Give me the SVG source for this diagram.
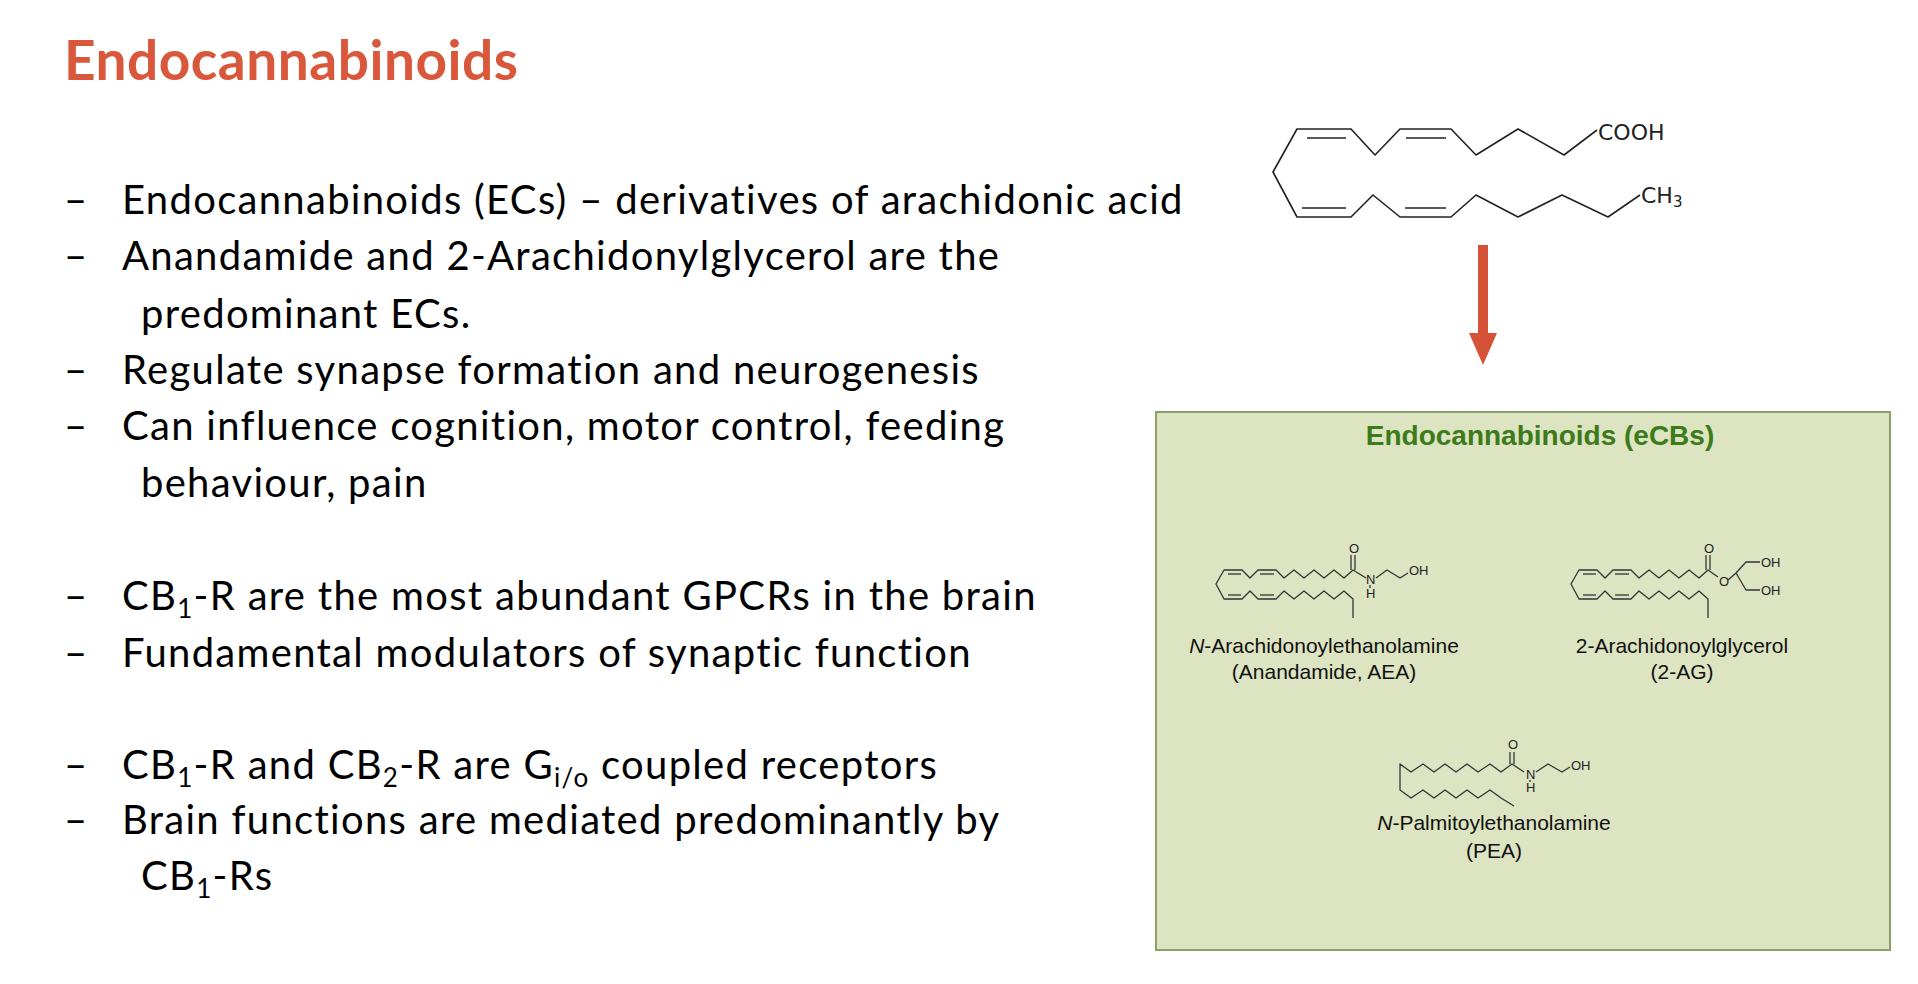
<svg xmlns="http://www.w3.org/2000/svg" width="1918" height="984" viewBox="0 0 1918 984">
<style>
.b{font-family:Lato,"Open Sans",sans-serif;font-size:40px;letter-spacing:1.3px;fill:#000}
.s{font-size:26px}
.m{fill:none;stroke:#222;stroke-width:1.6;stroke-linejoin:round}
.ms{fill:none;stroke:#333;stroke-width:1.3;stroke-linejoin:round}
.lab{font-family:"Liberation Sans",Arial,sans-serif;font-size:21px;fill:#111;text-anchor:middle}
.at{font-family:"Liberation Sans",Arial,sans-serif;font-size:13px;fill:#222}
</style>
<rect width="1918" height="984" fill="#fff"/>
<text x="64" y="80" font-family="Lato,sans-serif" font-weight="bold" font-size="55" letter-spacing="0.5" fill="#d9573a">Endocannabinoids</text>
<g id="bullets">
<text class="b" x="64" y="214">–</text><text class="b" x="122" y="214">Endocannabinoids (ECs) – derivatives of arachidonic acid</text>
<text class="b" x="64" y="270">–</text><text class="b" x="122" y="270">Anandamide and 2-Arachidonylglycerol are the</text>
<text class="b" x="141" y="328">predominant ECs.</text>
<text class="b" x="64" y="384">–</text><text class="b" x="122" y="384">Regulate synapse formation and neurogenesis</text>
<text class="b" x="64" y="440">–</text><text class="b" x="122" y="440">Can influence cognition, motor control, feeding</text>
<text class="b" x="141" y="497">behaviour, pain</text>
<text class="b" x="64" y="610">–</text><text class="b" x="122" y="610">CB<tspan class="s" dy="8">1</tspan><tspan dy="-8">-R are the most abundant GPCRs in the brain</tspan></text>
<text class="b" x="64" y="667">–</text><text class="b" x="122" y="667">Fundamental modulators of synaptic function</text>
<text class="b" x="64" y="779">–</text><text class="b" x="122" y="779">CB<tspan class="s" dy="8">1</tspan><tspan dy="-8">-R and CB</tspan><tspan class="s" dy="8">2</tspan><tspan dy="-8">-R are G</tspan><tspan class="s" dy="8">i/o</tspan><tspan dy="-8"> coupled receptors</tspan></text>
<text class="b" x="64" y="834">–</text><text class="b" x="122" y="834">Brain functions are mediated predominantly by</text>
<text class="b" x="141" y="890">CB<tspan class="s" dy="8">1</tspan><tspan dy="-8">-Rs</tspan></text>
</g>
<g id="arachidonic">
<polyline class="m" points="1597,130 1564,155 1518,129 1476,155 1451,129 1400,129 1375,155 1351,129 1297,129 1273,172 1297,217 1351,217 1373,195 1400,217 1451,217 1476,195 1518,217 1562,195 1608,217 1640,195"/>
<line class="m" x1="1307" y1="138" x2="1346" y2="138"/>
<line class="m" x1="1406" y1="138" x2="1446" y2="138"/>
<line class="m" x1="1302" y1="208" x2="1346" y2="208"/>
<line class="m" x1="1405" y1="208" x2="1446" y2="208"/>
<text x="1598" y="140" font-family="DejaVu Sans,sans-serif" font-size="22" fill="#222">COOH</text>
<text x="1641" y="203" font-family="DejaVu Sans,sans-serif" font-size="22" fill="#222">CH<tspan font-size="15" dy="4">3</tspan></text>
</g>
<g id="connectors">
<line x1="1483" y1="245" x2="1483" y2="335" stroke="#d65237" stroke-width="10"/>
<polygon points="1469,333 1497,333 1483,365" fill="#d65237"/>
</g>
<g id="ecb-box">
<rect x="1156" y="412" width="734" height="538" fill="#dce4c2" stroke="#8da064" stroke-width="2"/>
<text x="1540" y="445" font-family="'Liberation Sans',Arial,sans-serif" font-weight="bold" font-size="28" fill="#3d7a1a" text-anchor="middle">Endocannabinoids (eCBs)</text>
</g>
<g id="aea">
<polyline class="ms" points="1366,578 1353,570 1344,578 1334,570 1324,578 1314,570 1304,578 1294,570 1284,578 1276,570 1258,570 1250,578 1242,570 1224,570 1216,584 1224,599 1242,599 1250,591 1258,599 1276,599 1284,591 1294,599 1304,591 1314,599 1324,591 1334,599 1344,591 1353,599 1353,618"/>
<line class="ms" x1="1228" y1="574" x2="1241" y2="574"/><line class="ms" x1="1260" y1="574" x2="1274" y2="574"/>
<line class="ms" x1="1228" y1="595" x2="1241" y2="595"/><line class="ms" x1="1260" y1="595" x2="1274" y2="595"/>
<line class="ms" x1="1351" y1="570" x2="1351" y2="555"/><line class="ms" x1="1355" y1="570" x2="1355" y2="555"/>
<text class="at" x="1349" y="553">O</text>
<text class="at" x="1366" y="584">N</text><line class="ms" x1="1370" y1="585" x2="1370" y2="588"/><text class="at" x="1366" y="598">H</text>
<polyline class="ms" points="1376,578 1387,570 1400,578 1408,573"/>
<text class="at" x="1409" y="575">OH</text>
<text class="lab" x="1324" y="653"><tspan font-style="italic">N</tspan>-Arachidonoylethanolamine</text>
<text class="lab" x="1324" y="679">(Anandamide, AEA)</text>
</g>
<g id="twoag">
<polyline class="ms" points="1718,577 1708,570 1699,578 1689,570 1679,578 1669,570 1659,578 1649,570 1639,578 1631,570 1613,570 1605,578 1597,570 1579,570 1571,584 1579,599 1597,599 1605,591 1613,599 1631,599 1639,591 1649,599 1659,591 1669,599 1679,591 1689,599 1699,591 1708,599 1708,618"/>
<line class="ms" x1="1583" y1="574" x2="1596" y2="574"/><line class="ms" x1="1615" y1="574" x2="1629" y2="574"/>
<line class="ms" x1="1583" y1="595" x2="1596" y2="595"/><line class="ms" x1="1615" y1="595" x2="1629" y2="595"/>
<line class="ms" x1="1706" y1="570" x2="1706" y2="555"/><line class="ms" x1="1710" y1="570" x2="1710" y2="555"/>
<text class="at" x="1704" y="553">O</text>
<text class="at" x="1719" y="586">O</text>
<polyline class="ms" points="1728,580 1736,573 1746,562 1760,562"/>
<polyline class="ms" points="1736,573 1746,590 1760,590"/>
<text class="at" x="1761" y="567">OH</text>
<text class="at" x="1761" y="595">OH</text>
<text class="lab" x="1682" y="653">2-Arachidonoylglycerol</text>
<text class="lab" x="1682" y="679">(2-AG)</text>
</g>
<g id="pea">
<polyline class="ms" points="1524,772 1512,764 1501,772 1490,764 1478,772 1467,764 1456,772 1445,764 1434,772 1423,764 1411,772 1400,764 1400,790 1411,798 1423,790 1434,798 1445,790 1456,798 1467,790 1478,798 1490,790 1501,798 1514,806"/>
<line class="ms" x1="1510" y1="764" x2="1510" y2="752"/><line class="ms" x1="1514" y1="764" x2="1514" y2="752"/>
<text class="at" x="1508" y="749">O</text>
<text class="at" x="1526" y="779">N</text><line class="ms" x1="1530" y1="780" x2="1530" y2="782"/><text class="at" x="1526" y="792">H</text>
<polyline class="ms" points="1536,772 1548,764 1562,772 1570,767"/>
<text class="at" x="1571" y="770">OH</text>
<text class="lab" x="1494" y="830"><tspan font-style="italic">N</tspan>-Palmitoylethanolamine</text>
<text class="lab" x="1494" y="858">(PEA)</text>
</g>
</svg>
